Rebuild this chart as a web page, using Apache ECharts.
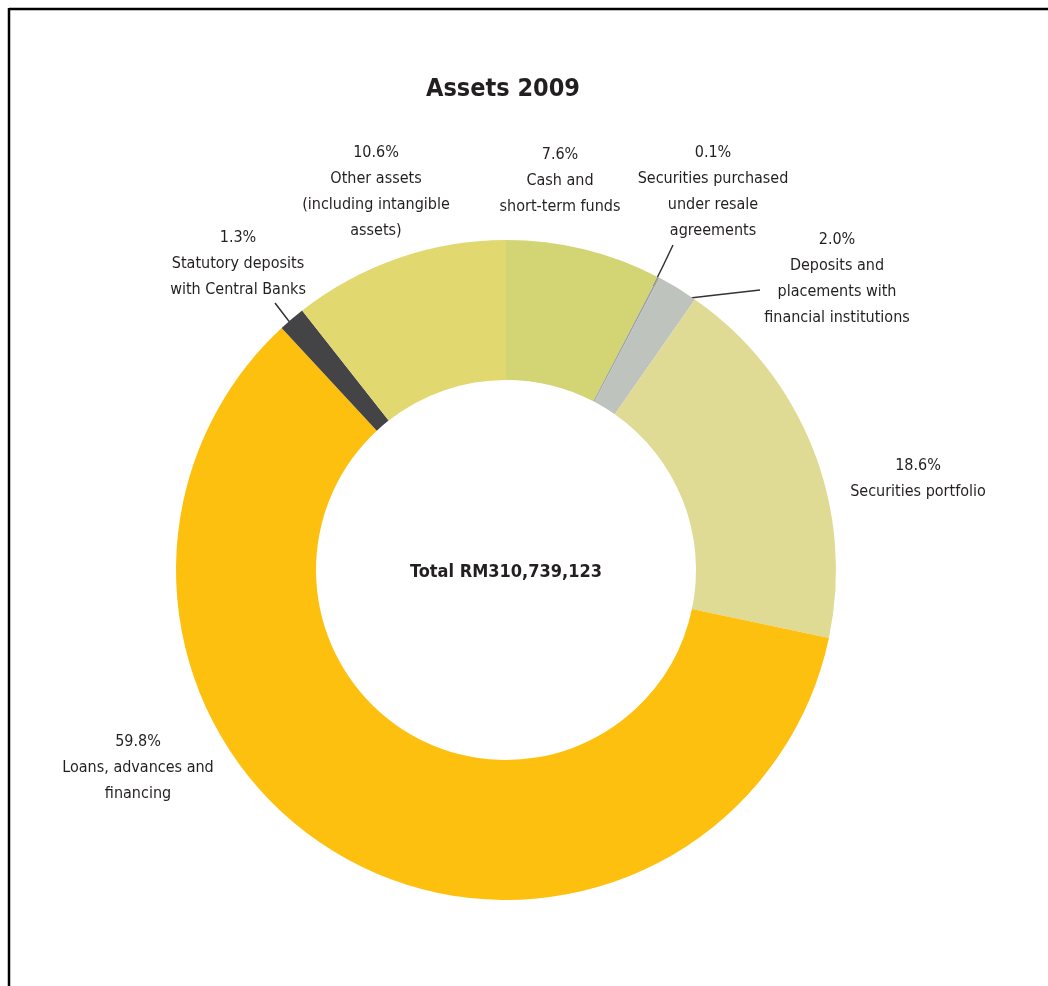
<!DOCTYPE html>
<html>
<head>
<meta charset="utf-8">
<script src="https://cdn.jsdelivr.net/npm/echarts@6/dist/echarts.min.js"></script>
<style>html,body{margin:0;padding:0;background:#fff;}#c{width:1048px;height:986px;}</style>
</head>
<body>
<div id="c"></div>
<script>
const categories = [
  'Cash and\nshort-term funds',
  'Securities purchased\nunder resale\nagreements',
  'Deposits and\nplacements with\nfinancial institutions',
  'Securities portfolio',
  'Loans, advances and\nfinancing',
  'Statutory deposits\nwith Central Banks',
  'Other assets\n(including intangible\nassets)'
];
const values = [7.6, 0.1, 2.0, 18.6, 59.8, 1.3, 10.6];
const colors = ['#d3d473', '#9ea4a0', '#bec3be', '#dfdb94', '#fdc00e', '#444446', '#e2d870'];
const titleText = 'Assets 2009';
const centerText = 'Total RM310,739,123';

// label layout (positions only)
const labelPos = [
  [560, 142], [713, 140], [837, 227], [918, 453], [138, 729], [238, 225], [376, 140]
];
const leaderLines = {
  1: [[653, 286], [663, 266], [673, 245]],
  2: [[673, 300], [716, 295], [760, 290]],
  5: [[302, 336], [288, 320], [275, 303]]
};

const FONT = "'Liberation Sans Narrow', 'DejaVu Sans Condensed', 'Arial Narrow', sans-serif";

const chart = echarts.init(document.getElementById('c'), null, {renderer: 'canvas'});
const data = categories.map((n, i) => ({
  name: n,
  value: values[i],
  itemStyle: {color: colors[i]},
  labelLine: {show: !!leaderLines[i]}
}));

chart.setOption({
  backgroundColor: '#ffffff',
  animation: false,
  title: [
    {text: titleText, left: 498, top: 72, textAlign: 'center',
     textStyle: {fontFamily: FONT, fontSize: 25, fontWeight: 'bold', color: '#231f20'}},
    {text: centerText, left: 501, top: 558, textAlign: 'center',
     textStyle: {fontFamily: FONT, fontSize: 18, fontWeight: 'bold', color: '#231f20'}}
  ],
  graphic: [
    {type: 'line', shape: {x1: 9, y1: 9, x2: 1048, y2: 9}, style: {stroke: '#000', lineWidth: 2.5}},
    {type: 'line', shape: {x1: 9, y1: 8, x2: 9, y2: 986}, style: {stroke: '#000', lineWidth: 2.5}}
  ],
  series: [{
    type: 'pie',
    center: [506, 570],
    radius: [190, 330],
    startAngle: 90,
    clockwise: true,
    avoidLabelOverlap: false,
    itemStyle: {borderWidth: 0},
    emphasis: {disabled: true},
    label: {
      show: true,
      position: 'outside',
      formatter: p => p.value.toFixed(1) + '%\n' + p.name,
      fontFamily: FONT,
      fontSize: 16,
      lineHeight: 26,
      color: '#231f20',
      align: 'center'
    },
    labelLine: {
      show: true,
      length: 10,
      length2: 10,
      lineStyle: {color: '#333333', width: 1.5}
    },
    labelLayout: function (params) {
      const i = params.dataIndex;
      const r = {x: labelPos[i][0], y: labelPos[i][1], align: 'center', verticalAlign: 'top'};
      if (leaderLines[i]) r.labelLinePoints = leaderLines[i];
      return r;
    },
    data: data
  }]
});
</script>
</body>
</html>
